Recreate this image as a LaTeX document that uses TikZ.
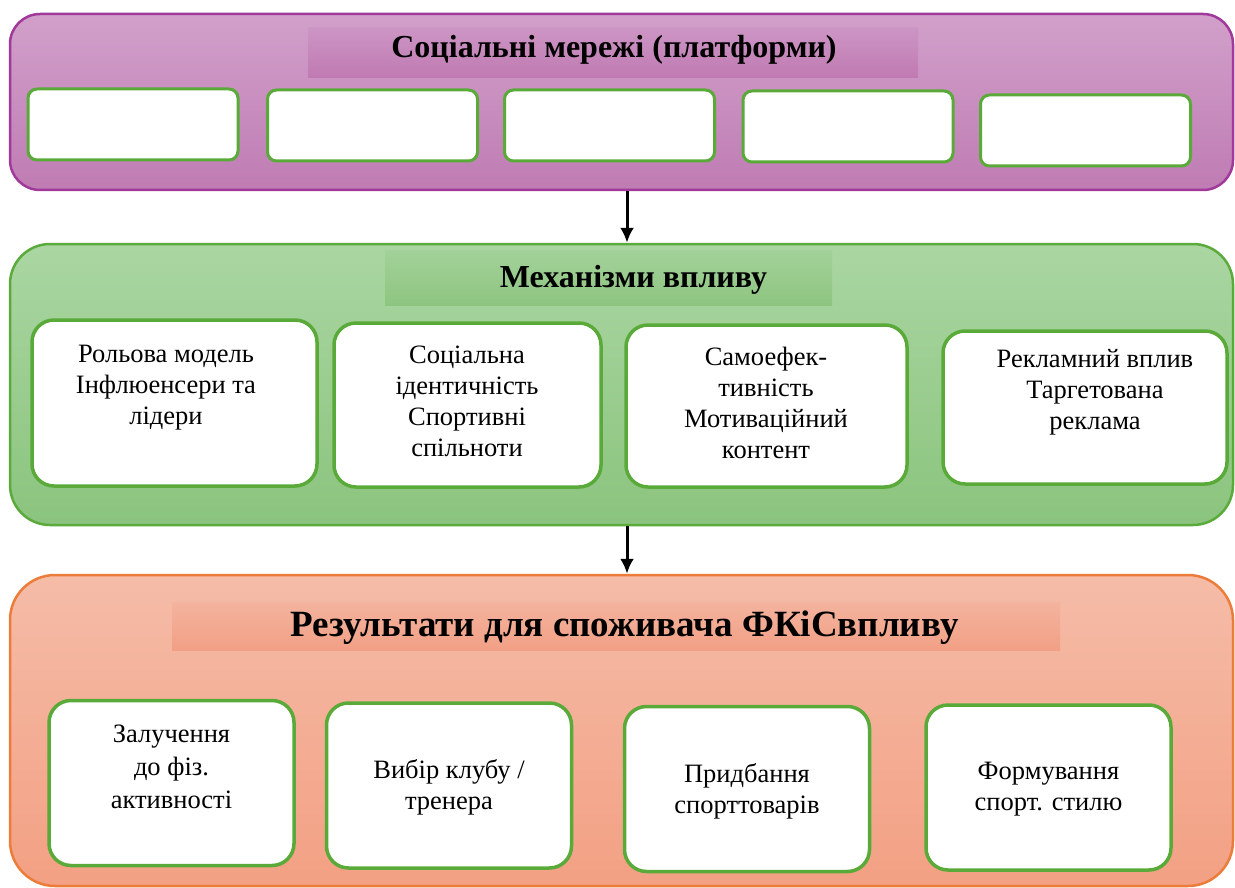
\documentclass[tikz,border=0pt]{standalone}
\usepackage{fontspec}
\setmainfont{Liberation Serif}
\usetikzlibrary{arrows.meta}

\definecolor{socTop}{HTML}{D1A0CA}
\definecolor{socBot}{HTML}{BF7CB3}
\definecolor{socLine}{HTML}{A0399A}
\definecolor{socBandTop}{HTML}{CC95C4}
\definecolor{socBandBot}{HTML}{C07AB2}
\definecolor{mechTop}{HTML}{AAD6A2}
\definecolor{mechBot}{HTML}{8BC47E}
\definecolor{mechLine}{HTML}{5BAA3C}
\definecolor{mechBandTop}{HTML}{A3D199}
\definecolor{mechBandBot}{HTML}{8EC581}
\definecolor{resTop}{HTML}{F5BCA8}
\definecolor{resBot}{HTML}{F3A083}
\definecolor{resLine}{HTML}{EC7C3A}
\definecolor{resBandTop}{HTML}{F3B39E}
\definecolor{resBandBot}{HTML}{F2A085}
\definecolor{cardLine}{HTML}{5AAA3A}

\tikzset{
  panel/.style={draw, line width=2.5pt, inner sep=0pt, minimum width=1223pt},
  band/.style={inner sep=0pt},
  slot/.style={draw=cardLine, fill=white, line width=3pt, rounded corners=9pt,
    minimum width=210pt, minimum height=71pt, inner sep=0pt},
  card/.style={draw=cardLine, fill=white, line width=3.5pt, rounded corners=22pt,
    inner sep=0pt},
  note/.style={align=center, inner sep=0pt, font=\fontsize{26.5}{31}\selectfont},
  heading/.style={inner sep=0pt, font=\bfseries\fontsize{32}{37}\selectfont},
  link/.style={-{Latex[length=15pt,width=14pt]}, line width=3pt}
}

\begin{document}
\begin{tikzpicture}[x=1pt, y=-1pt]
    \useasboundingbox (0,0) rectangle (1235,888);

    % Соціальні мережі
    \node[panel, draw=socLine, top color=socTop, bottom color=socBot,
        rounded corners=30pt, minimum height=176pt] (social) at (621.5,102) {};
    \node[band, top color=socBandTop, bottom color=socBandBot,
        minimum width=610pt, minimum height=50pt] (socband) at (613,53) {};
    \node[heading] (soctitle) at (614,50) {Соціальні мережі (платформи)};
    \foreach \i/\x/\y in {1/133/124.5, 2/372.5/125.5, 3/609.5/125.5, 4/848/126.5, 5/1085.5/130.5}
        \node[slot] (p\i) at (\x,\y) {};

    % Механізми впливу
    \node[panel, draw=mechLine, top color=mechTop, bottom color=mechBot,
        rounded corners=40pt, minimum height=281pt] (mech) at (621.5,384.5) {};
    \node[band, top color=mechBandTop, bottom color=mechBandBot,
        minimum width=447pt, minimum height=55pt] (mechband) at (608.5,277.5) {};
    \node[heading] (mechtitle) at (633.5,280) {Механізми впливу};
    \foreach \i/\x/\y/\w/\h in {1/174.5/403/285pt/166pt, 2/467.5/405/267pt/164pt,
                                3/766.5/406/281pt/162pt, 4/1085/407.5/284pt/153pt}
        \node[card, minimum width=\w, minimum height=\h] (m\i) at (\x,\y) {};
    \node[note] (m1t) at (166,388) {Рольова модель\\Інфлюенсери та\\лідери};
    \node[note] (m2t) at (467,401.5) {Соціальна\\ідентичність\\Спортивні\\спільноти};
    \node[note] (m3t) at (766,403) {Самоефек-\\тивність\\Мотиваційний\\контент};
    \node[note] (m4t) at (1095,392.5) {Рекламний вплив\\Таргетована\\реклама};

    % Результати
    \node[panel, draw=resLine, top color=resTop, bottom color=resBot,
        rounded corners=45pt, minimum height=311pt] (res) at (621.5,730.5) {};
    \node[band, top color=resBandTop, bottom color=resBandBot,
        minimum width=888pt, minimum height=48pt] (resband) at (616,626) {};
    \node[heading, font=\bfseries\fontsize{37}{42}\selectfont] (restitle) at (624.5,628)
        {Результати для споживача ФКіСвпливу};
    \foreach \i/\x/\y in {1/171.5/783, 2/449/785.5, 3/747/789, 4/1048.5/787.5}
        \node[card, minimum width=245pt, minimum height=165pt] (r\i) at (\x,\y) {};
    \node[note, font=\fontsize{26.5}{33}\selectfont] (r1t) at (171.5,767) {Залучення\\до фіз.\\активності};
    \node[note] (r2t) at (449,787.5) {Вибір клубу /\\тренера};
    \node[note] (r3t) at (747,791) {Придбання\\спорттоварів};
    \node[note] (r4t) at (1048.5,789.5) {Формування\\спорт. стилю};

    % Стрілки
    \draw[link] ([xshift=5.5pt]social.south) -- ([xshift=5.5pt]mech.north);
    \draw[link] ([xshift=5.5pt]mech.south) -- ([xshift=5.5pt]res.north);
\end{tikzpicture}
\end{document}
